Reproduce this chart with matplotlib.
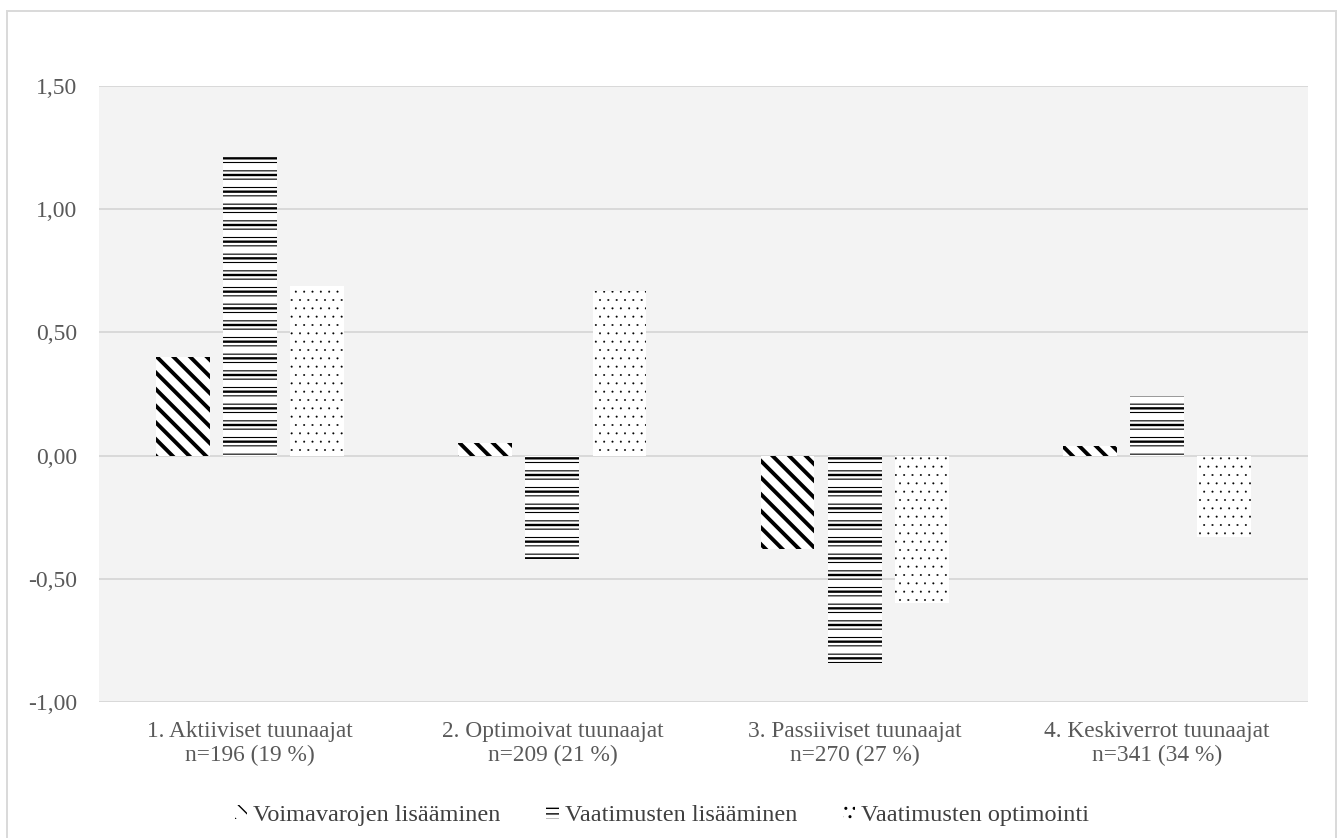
import matplotlib
matplotlib.use("Agg")
import matplotlib.pyplot as plt
from matplotlib.patches import Patch, Rectangle
import numpy as np

categories = ["1. Aktiiviset tuunaajat\nn=196 (19 %)",
              "2. Optimoivat tuunaajat\nn=209 (21 %)",
              "3. Passiiviset tuunaajat\nn=270 (27 %)",
              "4. Keskiverrot tuunaajat\nn=341 (34 %)"]
series_names = ["Voimavarojen lisääminen", "Vaatimusten lisääminen", "Vaatimusten optimointi"]
voimavarat = [0.40, 0.05, -0.38, 0.04]
vaatimukset_lis = [1.21, -0.42, -0.84, 0.24]
vaatimukset_opt = [0.69, 0.67, -0.60, -0.33]
yticks = [-1.0, -0.5, 0.0, 0.5, 1.0, 1.5]
ytick_labels = ["-1,00", "-0,50", "0,00", "0,50", "1,00", "1,50"]

plt.rcParams['font.family'] = ['Liberation Serif', 'DejaVu Serif']

fig = plt.figure(figsize=(13.41, 8.38), dpi=100)
fig.patch.set_facecolor('white')
ax = fig.add_axes([99/1341, 1-702/838, (1308-99)/1341, (702-86)/838])
ax.set_facecolor('#f3f3f3')

x = np.arange(len(categories))
w = 0.178
off = 0.222

def set_hlw(bars, lw):
    for b in bars:
        if hasattr(b, 'set_hatch_linewidth'):
            b.set_hatch_linewidth(lw)

plt.rcParams['hatch.color'] = 'black'

b1 = ax.bar(x - off, voimavarat, w, color='white', edgecolor='black', linewidth=0, hatch='\\\\', zorder=3)
set_hlw(b1, 2.8)
b2 = ax.bar(x, vaatimukset_lis, w, color='white', edgecolor='black', linewidth=0, hatch='--', zorder=3)
set_hlw(b2, 0.8)
b2b = ax.bar(x, vaatimukset_lis, w, color='none', edgecolor='black', linewidth=0, hatch='-', zorder=4)
set_hlw(b2b, 1.7)
b3 = ax.bar(x + off, vaatimukset_opt, w, color='white', edgecolor='black', linewidth=0, hatch='..', zorder=3)
set_hlw(b3, 0.2)

ax.set_ylim(-1.0, 1.5)
ax.set_xlim(-0.5, 3.5)
ax.set_yticks(yticks)
ax.set_yticklabels(ytick_labels)
ax.set_xticks(x)
ax.set_xticklabels(categories, linespacing=1.15)
ax.tick_params(axis='y', length=0, pad=16, labelsize=17, labelcolor='#595959')
ax.tick_params(axis='x', length=0, pad=14, labelsize=16.8, labelcolor='#595959')
ax.grid(axis='y', color='#d9d9d9', linewidth=1.4, zorder=1)
ax.set_axisbelow(True)
for s in ax.spines.values():
    s.set_visible(False)

handles = [Patch(facecolor='white', edgecolor='black', linewidth=0, hatch='\\\\'),
           Patch(facecolor='white', edgecolor='black', linewidth=0, hatch='---'),
           Patch(facecolor='white', edgecolor='black', linewidth=0, hatch='..')]
leg = fig.legend(handles, series_names, loc='center', bbox_to_anchor=(662/1341, 1-815/838),
                 ncol=3, frameon=False, fontsize=17.5, handlelength=0.5, handleheight=0.5,
                 handletextpad=0.25, columnspacing=1.9)
for t in leg.get_texts():
    t.set_color('#404040')

border = Rectangle((7/1341, -0.05), (1336-7)/1341, 1-11/838+0.05, transform=fig.transFigure,
                   fill=False, edgecolor='#d9d9d9', linewidth=1.4)
fig.add_artist(border)

fig.savefig('out.png', dpi=100, facecolor='white')
